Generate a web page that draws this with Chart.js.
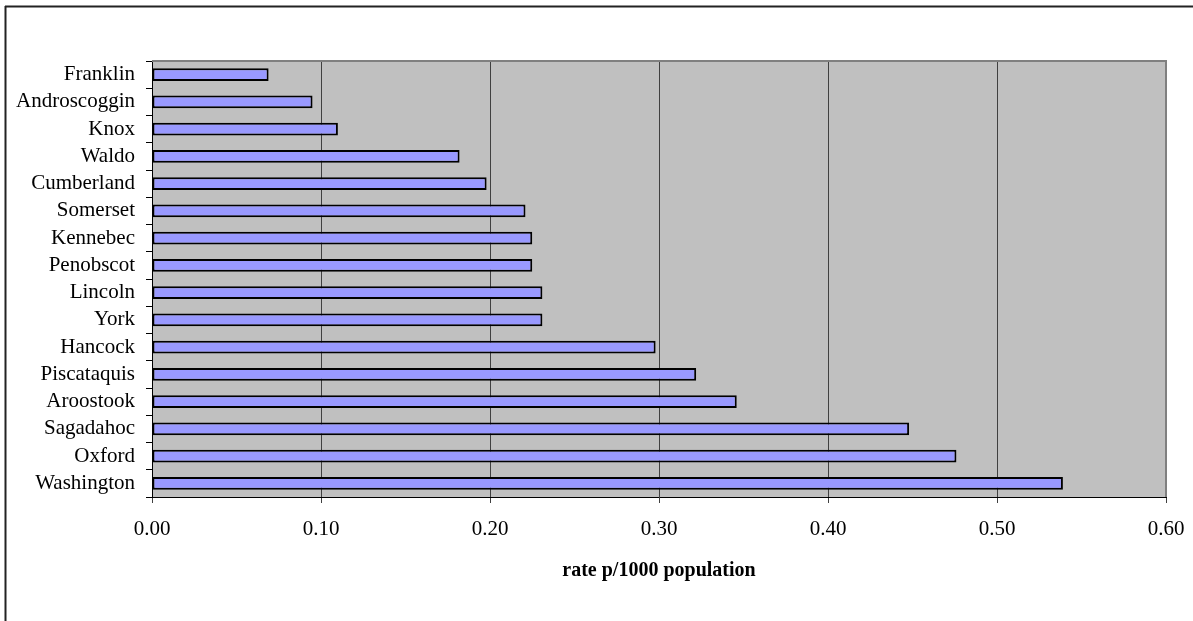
<!DOCTYPE html>
<html>
<head>
<meta charset="utf-8">
<script src="https://cdn.jsdelivr.net/npm/chart.js@4"></script>
<style>
  html, body { margin: 0; padding: 0; background: #fff; }
  #wrap { position: relative; width: 1193px; height: 621px; }
</style>
</head>
<body>
<div id="wrap"><canvas id="c" width="1193" height="621"></canvas></div>
<script>
// Maine counties, rate per 1000 population
const counties = [
  'Franklin', 'Androscoggin', 'Knox', 'Waldo', 'Cumberland', 'Somerset',
  'Kennebec', 'Penobscot', 'Lincoln', 'York', 'Hancock', 'Piscataquis',
  'Aroostook', 'Sagadahoc', 'Oxford', 'Washington'
];
const rates = [
  0.069, 0.095, 0.110, 0.182, 0.198, 0.221,
  0.225, 0.225, 0.231, 0.231, 0.298, 0.322,
  0.346, 0.448, 0.476, 0.539
];
const xTicks = [0, 0.1, 0.2, 0.3, 0.4, 0.5, 0.6];
const xTitle = 'rate p/1000 population';

const serif = 'Liberation Serif, "Times New Roman", serif';

// grey plot background, grey top/right edges and the outer frame
const frame = {
  id: 'frame',
  beforeDraw(chart) {
    const ctx = chart.ctx, a = chart.chartArea;
    ctx.save();
    ctx.fillStyle = '#C0C0C0';
    ctx.fillRect(a.left, a.top, a.right - a.left, a.bottom - a.top);
    ctx.strokeStyle = '#222';
    ctx.lineWidth = 2;
    ctx.beginPath();
    ctx.moveTo(5, 6.5); ctx.lineTo(chart.width, 6.5);
    ctx.moveTo(5.5, 6); ctx.lineTo(5.5, chart.height);
    ctx.stroke();
    ctx.restore();
  },
  afterDatasetsDraw(chart) {
    const ctx = chart.ctx, a = chart.chartArea;
    ctx.save();
    ctx.strokeStyle = '#808080';
    ctx.lineWidth = 2;
    ctx.beginPath();
    ctx.moveTo(a.left, a.top);
    ctx.lineTo(a.right, a.top);
    ctx.lineTo(a.right, a.bottom);
    ctx.stroke();
    ctx.restore();
  }
};

new Chart(document.getElementById('c'), {
  type: 'bar',
  data: {
    labels: counties,
    datasets: [{
      data: rates,
      backgroundColor: '#9999FF',
      borderColor: '#000',
      borderWidth: 2,
      borderSkipped: false,
      categoryPercentage: 1,
      barPercentage: 0.46
    }]
  },
  options: {
    indexAxis: 'y',
    responsive: false,
    animation: false,
    layout: { padding: { top: 61, right: 27, bottom: 0, left: 0 } },
    plugins: { legend: { display: false }, tooltip: { enabled: false } },
    scales: {
      x: {
        min: 0, max: 0.6,
        afterBuildTicks(scale) { scale.ticks = xTicks.map(v => ({ value: v })); },
        afterFit(scale) {
          scale.height = 124;
          scale.paddingLeft = 0;
          scale.paddingRight = 0;
        },
        grid: { color: '#404040', lineWidth: 1, tickLength: 6, tickColor: '#404040' },
        border: { color: '#000', width: 1 },
        ticks: {
          color: '#000',
          font: { family: serif, size: 21 },
          padding: 14,
          maxRotation: 0,
          callback: v => Number(v).toFixed(2)
        },
        title: {
          display: true,
          text: xTitle,
          color: '#000',
          font: { family: serif, size: 20, weight: 'bold' },
          padding: { top: 0, bottom: 38 }
        }
      },
      y: {
        afterFit(scale) { scale.width = 152; },
        grid: { drawOnChartArea: false, offset: true, tickLength: 6, tickColor: '#000' },
        border: { color: '#000', width: 1 },
        ticks: {
          color: '#000',
          font: { family: serif, size: 21 },
          padding: 11,
          autoSkip: false
        }
      }
    }
  },
  plugins: [frame]
});
</script>
</body>
</html>
